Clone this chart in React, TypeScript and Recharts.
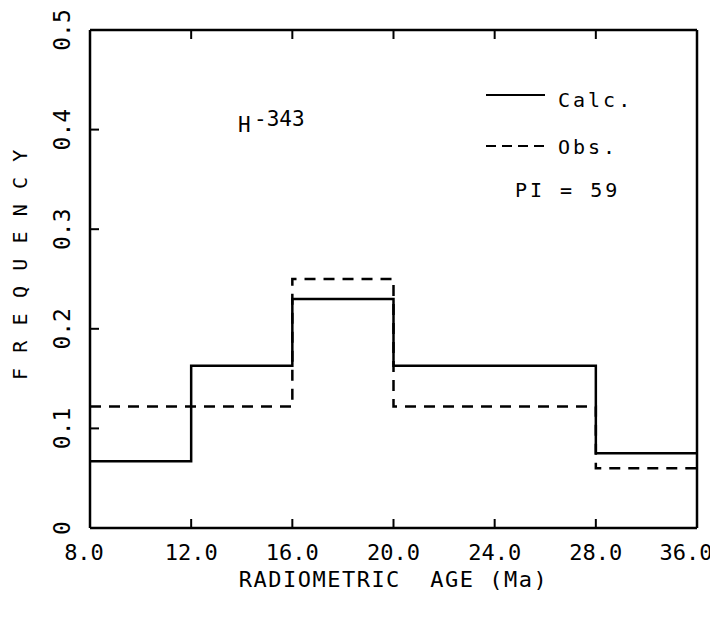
import React from 'react';
import { LineChart, Line, XAxis, YAxis, Legend } from 'recharts';

const xTickLabels = ['8.0', '12.0', '16.0', '20.0', '24.0', '28.0', '36.0'];
const calcValues = [0.067, 0.163, 0.23, 0.163, 0.163, 0.075];
const obsValues = [0.122, 0.122, 0.25, 0.122, 0.122, 0.06];
const yTickValues = [0, 0.1, 0.2, 0.3, 0.4, 0.5];
const yTickLabels = ['0', '0.1', '0.2', '0.3', '0.4', '0.5'];

const data = xTickLabels.map((_, i) => ({
  x: i,
  calc: calcValues[Math.min(i, calcValues.length - 1)],
  obs: obsValues[Math.min(i, obsValues.length - 1)],
}));

const FONT = "'DejaVu Sans Mono', monospace";
const TICK_LEN = 9;
const BOTTOM_MARGIN = 32;
const LEFT_MARGIN = 20;
const CHART_W = 710;
const CHART_H = 600;

const BottomTick = (props: any) => {
  const { x, y, payload } = props;
  const axisY = y - BOTTOM_MARGIN;
  const idx = payload.value;
  const isFirst = idx === 0;
  const isLast = idx === xTickLabels.length - 1;
  const shift = isFirst ? -6 : isLast ? -11 : 0;
  return (
    <g>
      <line x1={x} x2={x} y1={axisY} y2={axisY - TICK_LEN} stroke="#000" strokeWidth={2} />
      <text x={x + shift} y={y} textAnchor="middle" fontFamily={FONT} fontSize={22} fill="#000">
        {xTickLabels[idx]}
      </text>
    </g>
  );
};

const TopTick = (props: any) => {
  const { x, y } = props;
  return <line x1={x} x2={x} y1={y} y2={y + TICK_LEN} stroke="#000" strokeWidth={2} />;
};

const LeftTick = (props: any) => {
  const { x, y, payload } = props;
  const axisX = x + LEFT_MARGIN;
  const i = yTickValues.indexOf(payload.value);
  const showLine = payload.value > 0 && payload.value < 0.5;
  return (
    <g>
      {showLine && (
        <line x1={axisX} x2={axisX + TICK_LEN} y1={y} y2={y} stroke="#000" strokeWidth={2} />
      )}
      <text
        x={x}
        y={y}
        transform={`rotate(-90 ${x} ${y})`}
        textAnchor="middle"
        fontFamily={FONT}
        fontSize={23}
        fill="#000"
      >
        {yTickLabels[i]}
      </text>
    </g>
  );
};

const RightTick = (props: any) => {
  const { x, y } = props;
  return <line x1={x} x2={x - TICK_LEN} y1={y} y2={y} stroke="#000" strokeWidth={2} />;
};

const YLabel = (props: any) => {
  const vb = props.viewBox || {};
  const cx = vb.x + 19;
  const cy = vb.y + vb.height / 2 - 15;
  return (
    <text
      x={cx}
      y={cy}
      transform={`rotate(-90 ${cx} ${cy})`}
      textAnchor="middle"
      fontFamily={FONT}
      fontSize={20}
      letterSpacing={1.6}
      fill="#000"
    >
      F R E Q U E N C Y
    </text>
  );
};

const XLabel = (props: any) => {
  const vb = props.viewBox || {};
  return (
    <text
      x={vb.x + vb.width / 2}
      y={vb.y + 59}
      textAnchor="middle"
      fontFamily={FONT}
      fontSize={22}
      letterSpacing={1.5}
      fill="#000"
      style={{ whiteSpace: 'pre' }}
    >
      {'RADIOMETRIC  AGE (Ma)'}
    </text>
  );
};

const Annotations = () => (
  <svg width={CHART_W} height={CHART_H} style={{ display: 'block', pointerEvents: 'none' }}>
    <text x={230} y={124} fontFamily={FONT} fontSize={21} fill="#000">
      H
      <tspan x={246} y={118} fontSize={21}>-343</tspan>
    </text>
    <line x1={478} x2={537} y1={87} y2={87} stroke="#000" strokeWidth={2} />
    <text x={550} y={99} fontFamily={FONT} fontSize={20} letterSpacing={3} fill="#000">
      Calc.
    </text>
    <line x1={478} x2={537} y1={138} y2={138} stroke="#000" strokeWidth={2} strokeDasharray="10 6" />
    <text x={550} y={146} fontFamily={FONT} fontSize={20} letterSpacing={3} fill="#000">
      Obs.
    </text>
    <text x={507} y={189} fontFamily={FONT} fontSize={20} letterSpacing={3} fill="#000" style={{ whiteSpace: 'pre' }}>
      {'PI = 59'}
    </text>
  </svg>
);

export default function App() {
  return (
    <div>
      <style>{'html, body { overflow: hidden; }'}</style>
      <LineChart
        width={CHART_W}
        height={CHART_H}
        data={data}
        margin={{ top: 0, right: 0, bottom: 0, left: 0 }}
        style={{ background: '#fff' }}
      >
        <XAxis
          xAxisId="b"
          dataKey="x"
          type="number"
          orientation="bottom"
          domain={[0, 6]}
          ticks={[0, 1, 2, 3, 4, 5, 6]}
          interval={0}
          height={80}
          tickSize={0}
          tickMargin={BOTTOM_MARGIN}
          tick={<BottomTick />}
          axisLine={{ stroke: '#000', strokeWidth: 2.5 }}
          label={<XLabel />}
        />
        <XAxis
          xAxisId="t"
          type="number"
          orientation="top"
          domain={[0, 6]}
          ticks={[1, 2, 3, 4, 5]}
          interval={0}
          height={22}
          tickSize={0}
          tickMargin={0}
          tick={<TopTick />}
          axisLine={{ stroke: '#000', strokeWidth: 2.5 }}
        />
        <YAxis
          yAxisId="l"
          type="number"
          orientation="left"
          domain={[0, 0.5]}
          ticks={yTickValues}
          interval={0}
          width={82}
          tickSize={0}
          tickMargin={LEFT_MARGIN}
          tick={<LeftTick />}
          axisLine={{ stroke: '#000', strokeWidth: 2.5 }}
          label={<YLabel />}
        />
        <YAxis
          yAxisId="r"
          type="number"
          orientation="right"
          domain={[0, 0.5]}
          ticks={[0.1, 0.2, 0.3, 0.4]}
          interval={0}
          width={21}
          tickSize={0}
          tickMargin={0}
          tick={<RightTick />}
          axisLine={{ stroke: '#000', strokeWidth: 2.5 }}
        />
        <Line
          xAxisId="b"
          yAxisId="l"
          type="stepAfter"
          dataKey="obs"
          name="Obs."
          stroke="#000"
          strokeWidth={2.5}
          strokeDasharray="11 8"
          dot={false}
          activeDot={false}
          isAnimationActive={false}
        />
        <Line
          xAxisId="b"
          yAxisId="l"
          type="stepAfter"
          dataKey="calc"
          name="Calc."
          stroke="#000"
          strokeWidth={2.5}
          dot={false}
          activeDot={false}
          isAnimationActive={false}
        />
        <Legend
          layout="horizontal"
          verticalAlign="middle"
          align="center"
          content={<Annotations />}
          wrapperStyle={{ position: 'absolute', left: 0, top: 0, width: CHART_W, height: CHART_H, pointerEvents: 'none' }}
        />
      </LineChart>
    </div>
  );
}
